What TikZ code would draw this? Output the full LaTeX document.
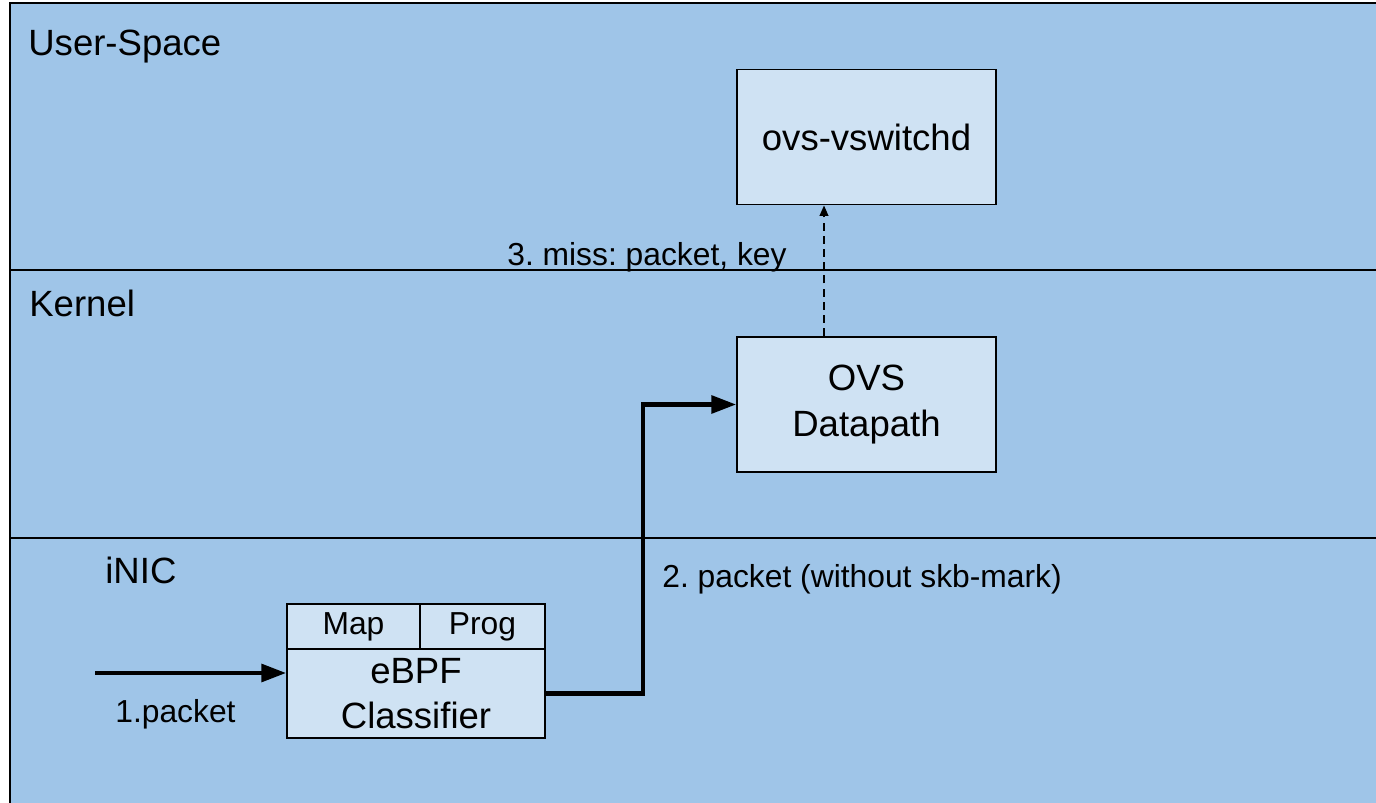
\documentclass[tikz,border=0pt]{standalone}
\usepackage{fontspec}
\setmainfont{Liberation Sans}
\usetikzlibrary{arrows.meta}
\definecolor{layerblue}{HTML}{9FC5E8}
\definecolor{boxblue}{HTML}{CFE2F3}
\newcommand{\bigtext}{\fontsize{20.8pt}{26pt}\selectfont}
\newcommand{\smalltext}{\fontsize{18.1pt}{26pt}\selectfont}
\frenchspacing

\begin{document}
\begin{tikzpicture}[x=0.02cm,y=-0.02cm,>={Triangle[length=14pt,width=10pt]},layer/.style={font=\bigtext,anchor=base west,inner sep=0pt},block/.style={draw,line width=1.1pt,fill=boxblue,align=center,font=\bigtext,minimum width=5.18cm,minimum height=2.7cm,inner sep=0pt},cell/.style={draw,line width=1.1pt,fill=boxblue,align=center,font=\smalltext,minimum height=0.9cm,inner sep=0pt},flow/.style={->,line width=2.3pt},miss/.style={-{Triangle[length=6pt,width=5pt]},line width=0.9pt,dash pattern=on 4.5pt off 3pt},note/.style={font=\smalltext,anchor=base west,inner sep=0pt}]
\useasboundingbox (0,0) rectangle (1376,803);
\clip (0,0) rectangle (1376,803);
% layers
\fill[layerblue] (10,3) rectangle (1400,820);
\draw[line width=1.5pt] (10,820) -- (10,3) -- (1400,3);
\draw[line width=1.5pt] (10,270) -- (1400,270);
\draw[line width=1pt] (10,538) -- (1400,538);
\node[layer] (us) at (28,56) {User-Space};
\node[layer] (kern) at (29,317) {Kernel};
\node[layer] (nic) at (105,583) {iNIC};
% boxes
\node[block] (vsd) at (866.5,137) {ovs-vswitchd};
\node[block] (dp) at (866.5,404.5) {OVS\\Datapath};
\node[cell,minimum width=2.66cm] (map) at (353.5,626.5) {Map};
\node[cell,minimum width=2.5cm] (prog) at (482.5,626.5) {Prog};
\node[cell,font=\bigtext,minimum width=5.16cm,minimum height=1.78cm] (ebpf) at (416,693.5) {eBPF\\Classifier};
% packet path
\coordinate (src) at (95,673);
\draw[flow] (src) -- (src -| ebpf.west);
\node[note] (l1) at (115,722) {1.packet};
\coordinate (turn) at (643,540);
\draw[flow] (ebpf.east) -| (turn) |- (dp.west);
\node[note] (l2) at (662,587) {2. packet (without skb-mark)};
\coordinate (up) at (824,0);
\draw[miss] (dp.north -| up) -- (vsd.south -| up);
\node[note] (l3) at (507,266) {3. miss: packet, key};
\end{tikzpicture}
\end{document}
